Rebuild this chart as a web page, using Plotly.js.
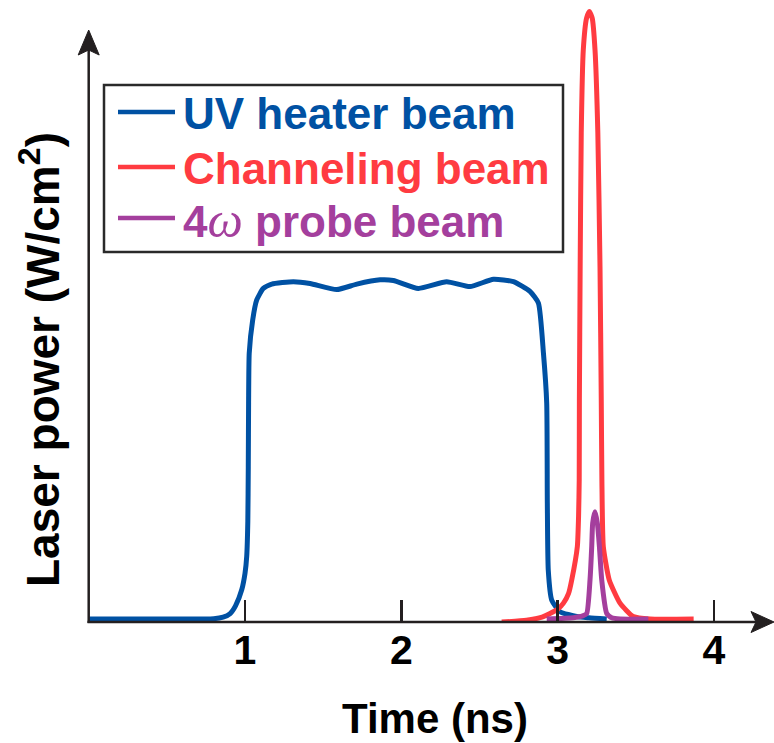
<!DOCTYPE html>
<html>
<head>
<meta charset="utf-8">
<script src="https://cdn.plot.ly/plotly-3.0.1.min.js"></script>
<style>html,body{margin:0;padding:0;background:#fff;}#chart{width:774px;height:743px;}</style>
</head>
<body>
<div id="chart"></div>
<script>
// ---- data ----
const seriesNames = ['UV heater beam', 'Channeling beam', '4<span style="font-family:\'Liberation Serif\',serif;font-style:italic;font-weight:normal;font-size:50px">ω</span> probe beam'];
const seriesColors = ['#0051A3', '#FF3B41', '#A43F9D'];

const uvX = [0, 0.50, 0.80, 0.86, 0.905, 0.94, 0.979, 1.000, 1.011, 1.018, 1.021, 1.023, 1.027, 1.049, 1.075, 1.117, 1.171, 1.309, 1.416, 1.587, 1.715, 1.864, 1.949, 2.109, 2.290, 2.439, 2.589, 2.717, 2.823, 2.877, 2.909, 2.930, 2.934, 2.940, 2.962, 3.015, 3.122, 3.200, 3.314];
const uvY = [0, 0, 0.05, 0.3, 0.9, 2.2, 4.8, 7.5, 10.3, 16, 25, 35.4, 43.6, 49.0, 52.3, 54.2, 54.9, 55.3, 55.0, 54.0, 54.9, 55.6, 55.5, 54.2, 55.3, 54.5, 55.7, 55.3, 53.7, 51.8, 43.6, 35.4, 18.9, 8.0, 3.1, 1.2, 0.4, 0.2, 0.0];

const chX = [2.642, 2.80, 2.90, 2.951, 3.000, 3.037, 3.070, 3.090, 3.126, 3.134, 3.138, 3.139, 3.144, 3.151, 3.164, 3.185, 3.203, 3.221, 3.239, 3.257, 3.271, 3.279, 3.283, 3.292, 3.330, 3.399, 3.484, 3.591, 3.870];
const chY = [-0.5, -0.2, 0.3, 0.9, 1.6, 2.6, 4.2, 6.4, 11.9, 17, 22.8, 35.9, 57.7, 79.7, 93.3, 98.5, 99.6, 98.5, 93.3, 79.7, 57.7, 35.9, 22.8, 11.9, 6.4, 2.6, 0.4, 0, 0];

const prX = [2.93, 3.10, 3.16, 3.186, 3.207, 3.218, 3.224, 3.239, 3.254, 3.267, 3.282, 3.314, 3.346, 3.40, 3.58];
const prY = [0, 0.2, 0.5, 0.9, 6.4, 11.9, 15.7, 17.6, 15.7, 11.9, 6.4, 0.9, 0.2, 0, 0];

const tickVals = [1, 2, 3, 4];
const tickText = ['1', '2', '3', '4'];
const xTitle = 'Time (ns)';
const yTitle = 'Laser power (W/cm<sup>2</sup>)';

// ---- layout helpers (pixel -> paper) ----
const W = 774, H = 743;
const M = {l: 89, r: 0, t: 0, b: 121};
const PW = W - M.l - M.r, PH = H - M.t - M.b;
const px = x => (x - M.l) / PW;
const py = y => (H - M.b - y) / PH;

const AX = '#231F20';
const FONT = 'Liberation Sans, Arial, Helvetica, sans-serif';

const xs = [uvX, chX, prX], ys = [uvY, chY, prY];
const traces = xs.map((x, i) => ({
  type: 'scatter', mode: 'lines', x: x, y: ys[i], name: seriesNames[i],
  line: {color: seriesColors[i], width: 5, shape: 'spline', smoothing: 0.5},
  hoverinfo: 'skip', showlegend: false
}));

const shapes = [
  // axes
  {type: 'line', xref: 'paper', yref: 'paper', x0: px(87.5), x1: px(762), y0: py(622), y1: py(622), line: {color: AX, width: 2.5}},
  {type: 'path', xref: 'paper', yref: 'paper', path: `M ${px(774)},${py(622)} L ${px(751)},${py(611.5)} L ${px(756)},${py(622)} L ${px(751)},${py(632.5)} Z`, fillcolor: AX, line: {color: AX, width: 1}},
  {type: 'line', xref: 'paper', yref: 'paper', x0: px(88.7), x1: px(88.7), y0: py(623), y1: py(45), line: {color: AX, width: 2.5}},
  {type: 'path', xref: 'paper', yref: 'paper', path: `M ${px(88.7)},${py(30)} L ${px(78.2)},${py(55)} L ${px(88.7)},${py(50)} L ${px(99.2)},${py(55)} Z`, fillcolor: AX, line: {color: AX, width: 1}},
  // legend box
  {type: 'rect', xref: 'paper', yref: 'paper', x0: px(104), x1: px(563), y0: py(252), y1: py(85), line: {color: '#2a2a2a', width: 2.5}, fillcolor: 'rgba(255,255,255,0)'}
];
const rowsY = [112, 167, 218];
const annotations = [];
rowsY.forEach((ry, i) => {
  shapes.push({type: 'line', xref: 'paper', yref: 'paper', x0: px(118), x1: px(175), y0: py(ry), y1: py(ry), line: {color: seriesColors[i], width: 4.5}});
  annotations.push({xref: 'paper', yref: 'paper', x: px(181), y: py(ry + 2), xanchor: 'left', yanchor: 'middle', showarrow: false,
    text: seriesNames[i], font: {family: FONT, size: 44, weight: 'bold', color: seriesColors[i]}});
});
annotations.push({xref: 'paper', yref: 'paper', x: px(40), y: py(360), xanchor: 'center', yanchor: 'middle', showarrow: false,
  textangle: -90, text: yTitle, font: {family: FONT, size: 46, weight: 'bold', color: '#000'}});
annotations.push({xref: 'paper', yref: 'paper', x: px(435), y: py(718), xanchor: 'center', yanchor: 'middle', showarrow: false,
  text: xTitle, font: {family: FONT, size: 42, weight: 'bold', color: '#000'}});

const layout = {
  width: W, height: H, margin: M, paper_bgcolor: '#fff', plot_bgcolor: 'rgba(0,0,0,0)',
  showlegend: false,
  xaxis: {range: [0.002, 4.384], showline: false, zeroline: false, showgrid: false,
    tickmode: 'array', tickvals: tickVals, ticktext: tickText, ticks: 'inside', ticklen: 22, tickwidth: 2.5, tickcolor: AX,
    tickfont: {family: FONT, size: 41, weight: 'bold', color: '#000'}, ticklabelstandoff: 0, fixedrange: true},
  yaxis: {range: [-0.49, 101.48], showline: false, zeroline: false, showgrid: false, showticklabels: false, ticks: '', fixedrange: true},
  shapes: shapes, annotations: annotations
};
Plotly.newPlot('chart', traces, layout, {staticPlot: true, displayModeBar: false});
</script>
</body>
</html>
